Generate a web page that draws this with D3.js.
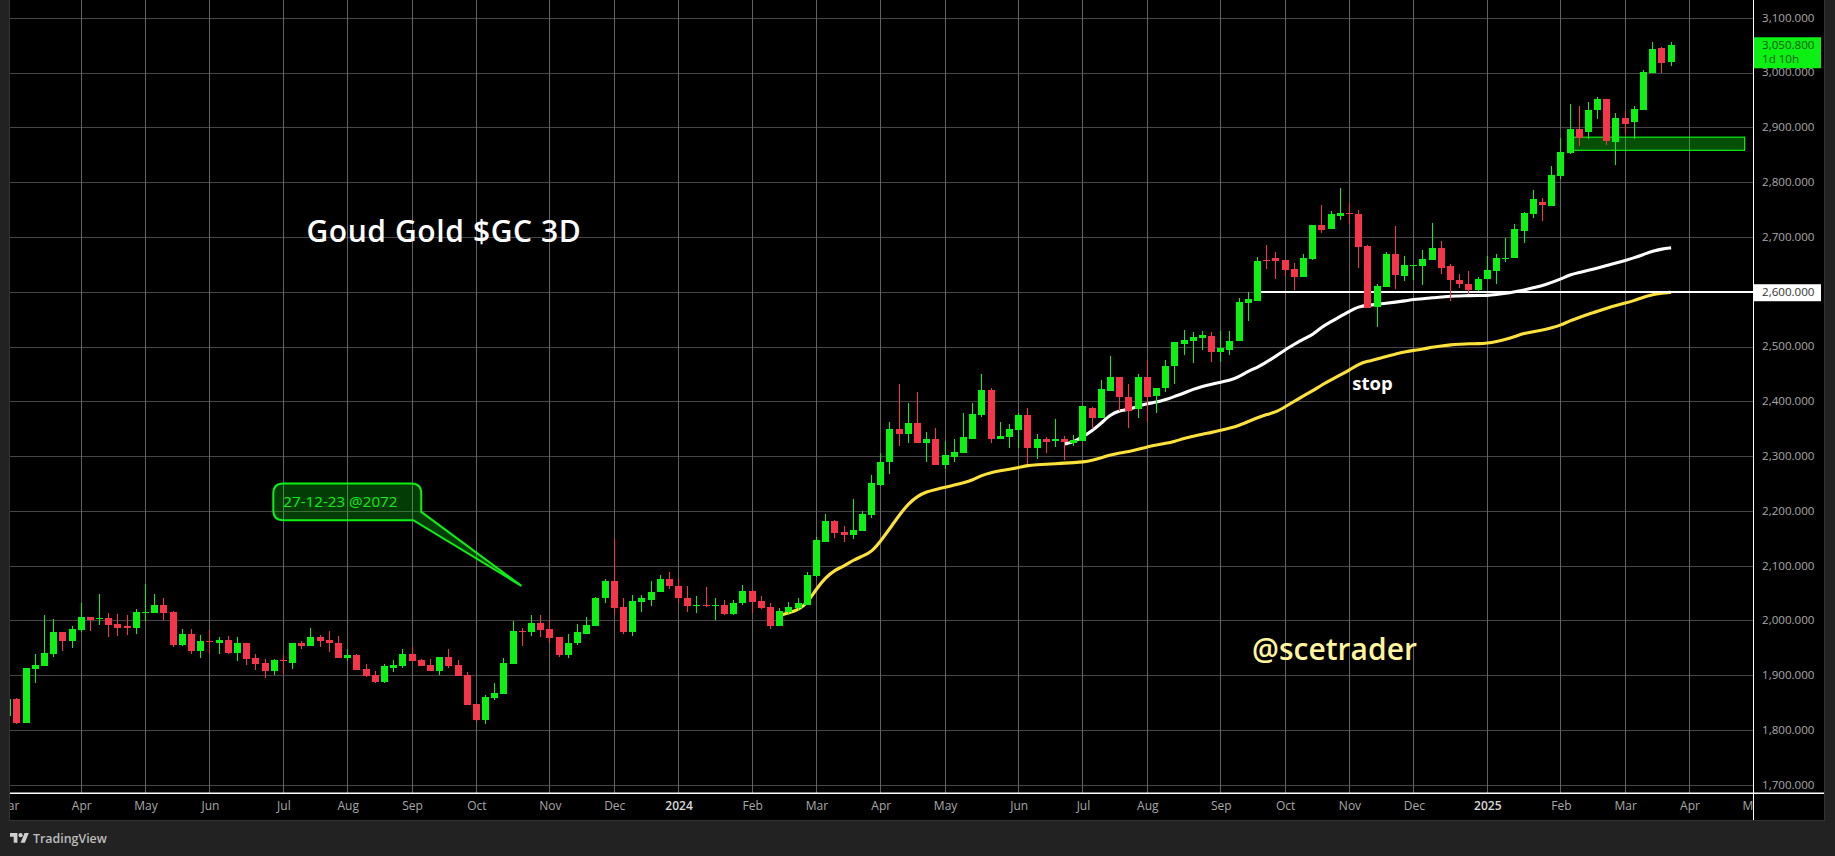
<!DOCTYPE html>
<html>
<head>
<meta charset="utf-8">
<script src="https://cdn.jsdelivr.net/npm/d3@7/dist/d3.min.js"></script>
<style>
  html, body { margin: 0; padding: 0; background: #222222; overflow: hidden; }
  svg { display: block; }
  text { font-family: "Open Sans", sans-serif; }
</style>
</head>
<body>
<div id="chart"></div>
<script>
// Bars run from index -1 up to 180 (3 day candles)
const firstBar = -1;
const opens = [1826,1857,1813,1913,1918,1940,1980,1964,1984,2008,2004,2006,1995,1990,1988,2015,2015,2030,2017,1957,1977,1946,1964,1960,1966,1942,1959,1933,1924,1908,1928,1924,1959,1955,1971,1966,1960,1933,1937,1913,1902,1889,1915,1918,1940,1928,1920,1908,1935,1920,1902,1849,1820,1860,1867,1922,1982,1979,1997,1986,1970,1937,1959,1977,1991,2041,2073,2026,1980,2035,2039,2052,2077,2064,2042,2028,2030,2028,2030,2013,2032,2055,2037,2026,1991,2017,2024,2030,2082,2145,2182,2162,2156,2164,2193,2249,2290,2351,2342,2361,2324,2332,2284,2300,2306,2333,2375,2421,2332,2335,2348,2375,2315,2332,2328,2333,2324,2328,2388,2370,2419,2445,2408,2386,2446,2410,2426,2466,2506,2511,2517,2520,2491,2495,2511,2580,2584,2659,2662,2659,2642,2628,2661,2723,2715,2739,2745,2743,2684,2573,2610,2670,2630,2648,2648,2659,2681,2648,2622,2615,2604,2624,2639,2661,2662,2712,2743,2765,2758,2813,2855,2898,2893,2933,2953,2875,2918,2911,2933,3000,3046,3020];
const highs = [1857,1860,1915,1939,2011,2004,1980,1991,2033,2008,2050,2015,2013,2010,2021,2068,2050,2042,2019,1986,1986,1975,1984,1971,1973,1970,1960,1939,1931,1931,1937,1960,1964,1988,1975,1982,1973,1948,1939,1922,1908,1922,1928,1949,1953,1931,1931,1935,1948,1929,1906,1849,1864,1886,1933,1999,1988,2010,2010,2002,1971,1977,1995,2008,2044,2077,2150,2041,2048,2048,2072,2084,2090,2079,2064,2046,2062,2041,2039,2039,2066,2057,2046,2032,2024,2035,2042,2090,2154,2195,2184,2173,2222,2200,2266,2306,2364,2432,2397,2417,2344,2352,2328,2332,2379,2397,2450,2426,2364,2359,2379,2388,2341,2335,2368,2337,2339,2392,2390,2439,2483,2445,2432,2450,2477,2426,2476,2510,2531,2528,2530,2528,2530,2530,2590,2600,2664,2686,2673,2659,2653,2670,2723,2759,2748,2790,2763,2750,2686,2615,2673,2721,2666,2650,2677,2726,2693,2651,2633,2639,2628,2666,2670,2699,2724,2747,2787,2772,2831,2882,2944,2940,2948,2957,2953,2927,2931,2940,3006,3057,3048,3057];
const lows = [1826,1811,1813,1887,1918,1935,1946,1951,1979,1982,1993,1970,1973,1975,1977,2000,2015,2002,1953,1955,1939,1933,1939,1940,1940,1926,1920,1911,1895,1902,1904,1913,1948,1955,1953,1944,1933,1926,1911,1897,1886,1886,1906,1915,1926,1917,1908,1902,1915,1900,1847,1816,1811,1855,1867,1922,1955,1973,1971,1959,1935,1933,1957,1977,1991,2032,2011,1977,1973,2017,2028,2052,2059,2032,2017,2015,2026,2002,2011,2010,2030,2015,2021,1986,1991,2010,2019,2030,2081,2144,2151,2145,2149,2164,2187,2246,2268,2319,2324,2324,2291,2284,2277,2291,2306,2333,2373,2324,2332,2315,2315,2286,2295,2306,2317,2293,2319,2328,2350,2370,2419,2383,2353,2370,2364,2379,2417,2433,2486,2471,2495,2473,2473,2486,2511,2548,2584,2642,2624,2630,2604,2628,2659,2708,2715,2732,2725,2644,2571,2537,2610,2606,2620,2622,2613,2659,2633,2584,2608,2597,2602,2624,2615,2655,2662,2690,2736,2730,2758,2807,2853,2866,2880,2917,2869,2833,2889,2880,2933,3000,3000,3013];
const closes = [1857,1813,1915,1920,1942,1980,1964,1986,2008,2002,2006,1993,1988,1988,2017,2017,2030,2015,1957,1977,1946,1964,1962,1966,1942,1959,1931,1922,1908,1928,1926,1959,1955,1971,1964,1959,1933,1937,1911,1900,1889,1917,1920,1940,1926,1918,1908,1935,1918,1900,1847,1820,1862,1869,1924,1982,1980,1997,1984,1968,1937,1960,1979,1993,2042,2073,2024,1980,2037,2041,2053,2077,2063,2041,2028,2030,2028,2030,2013,2033,2055,2035,2024,1991,2019,2026,2032,2084,2148,2182,2160,2156,2166,2195,2251,2291,2351,2342,2361,2324,2332,2284,2302,2308,2335,2377,2421,2332,2337,2350,2375,2315,2332,2326,2333,2326,2330,2392,2370,2423,2445,2408,2384,2446,2408,2426,2466,2510,2513,2519,2522,2491,2499,2511,2582,2588,2657,2657,2657,2641,2628,2662,2723,2714,2743,2745,2743,2683,2571,2611,2670,2631,2650,2650,2661,2681,2644,2622,2615,2604,2624,2641,2662,2662,2715,2745,2771,2760,2814,2856,2898,2882,2933,2953,2876,2918,2907,2935,3002,3044,3019,3050.8];

// Moving averages, read per bar
const yellowStart = 83;
const yellowLine = [2010,2015,2020,2032,2059,2079,2093,2100,2111,2118,2126,2146,2169,2193,2214,2228,2236,2240,2244,2248,2252,2257,2266,2271,2274,2277,2280,2284,2285,2286,2287,2288,2289,2290,2293,2298,2303,2307,2309,2313,2318,2321,2324,2328,2333,2337,2341,2344,2348,2352,2357,2364,2371,2377,2381,2391,2401,2411,2420,2431,2440,2449,2458,2469,2474,2478,2483,2487,2491,2494,2496,2500,2502,2504,2505,2506,2506,2507,2510,2514,2519,2525,2528,2531,2535,2540,2548,2554,2560,2565,2571,2576,2580,2585,2591,2596,2598,2600];
const whiteStart = 114;
const whiteLine = [2323,2327,2336,2347,2361,2377,2384,2386,2392,2397,2399,2404,2410,2416,2423,2428,2432,2436,2439,2446,2456,2463,2473,2483,2495,2505,2515,2522,2537,2546,2556,2565,2574,2576,2578,2580,2582,2584,2587,2588,2590,2591,2593,2593,2594,2594,2594,2596,2598,2601,2604,2608,2612,2618,2624,2632,2636,2640,2644,2649,2653,2658,2663,2669,2675,2679,2681];

// Axis ticks
const priceTicks = [1700,1800,1900,2000,2100,2200,2300,2400,2500,2600,2700,2800,2900,3000,3100];
const monthBars = [-1,7,14,21,29,36,43,50,58,65,72,80,87,94,101,109,116,123,131,138,145,152,160,168,175,182,189];
const monthLabels = ['Mar','Apr','May','Jun','Jul','Aug','Sep','Oct','Nov','Dec','2024','Feb','Mar','Apr','May','Jun','Jul','Aug','Sep','Oct','Nov','Dec','2025','Feb','Mar','Apr','May'];

// Drawings, in bar / price units
const stopLevel = { price: 2600, fromBar: 135 };
const zone = { fromBar: 168.9, toBar: 188, top: 2883, bottom: 2859 };
const callout = { left: 27.9, right: 44, top: 2251, bottom: 2184, tipBar: 54.9, tipPrice: 2064, baseBar: 43.1, basePrice: 2199 };
const notes = [
  { text: 'Goud Gold $GC 3D', bar: 31.5, price: 2691, size: 30, weight: 600, spacing: 0.6, fill: '#ffffff' },
  { text: 'stop', bar: 145.3, price: 2421, size: 18.5, weight: 700, spacing: 0, fill: '#ffffff' },
  { text: '@scetrader', bar: 134.4, price: 1929, size: 30, weight: 600, spacing: 0, fill: '#fff59d' }
];

const green = '#0cf014';
const red = '#f5364a';
const width = 1835, height = 856;
const plot = { left: 10, right: 1753, top: 0, bottom: 793, panelBottom: 820, panelRight: 1824 };

const xScale = d3.scaleLinear().domain([0, 182]).range([16.9, 1689.5]);
const yScale = d3.scaleLinear().domain([1700, 3100]).range([785.3, 18.3]);

const svg = d3.select('#chart').append('svg')
    .attr('width', width)
    .attr('height', height);

const defs = svg.append('defs');
defs.append('clipPath').attr('id', 'plot-clip').append('rect')
    .attr('x', plot.left).attr('y', plot.top)
    .attr('width', plot.right - plot.left).attr('height', plot.bottom - plot.top);
defs.append('clipPath').attr('id', 'time-clip').append('rect')
    .attr('x', plot.left).attr('y', plot.bottom)
    .attr('width', plot.right - plot.left).attr('height', plot.panelBottom - plot.bottom);

// Panel
svg.append('rect')
    .attr('x', plot.left - 1).attr('y', 0)
    .attr('width', plot.panelRight - plot.left + 2).attr('height', plot.panelBottom + 1)
    .attr('fill', '#333333');
svg.append('rect')
    .attr('x', plot.left).attr('y', 0)
    .attr('width', plot.panelRight - plot.left).attr('height', plot.panelBottom)
    .attr('fill', '#000000');

const chart = svg.append('g').attr('clip-path', 'url(#plot-clip)');
const crisp = v => Math.floor(v) + 0.5;

// Grid
chart.append('g').selectAll('line')
    .data(priceTicks)
    .join('line')
    .attr('x1', plot.left).attr('x2', plot.right)
    .attr('y1', d => crisp(yScale(d))).attr('y2', d => crisp(yScale(d)))
    .attr('stroke', '#464646');
chart.append('g').selectAll('line')
    .data(monthBars)
    .join('line')
    .attr('x1', d => crisp(xScale(d))).attr('x2', d => crisp(xScale(d)))
    .attr('y1', plot.top).attr('y2', plot.bottom)
    .attr('stroke', '#626262');

// Support zone
chart.append('rect')
    .attr('x', xScale(zone.fromBar)).attr('y', yScale(zone.top))
    .attr('width', xScale(zone.toBar) - xScale(zone.fromBar))
    .attr('height', yScale(zone.bottom) - yScale(zone.top))
    .attr('fill', 'rgba(14,240,20,0.33)')
    .attr('stroke', green)
    .attr('stroke-width', 1.2);

// Averages and stop level sit behind the candles
const lineGen = start => d3.line()
    .x((d, i) => xScale(start + i))
    .y(d => yScale(d))
    .curve(d3.curveBasis);
chart.append('path')
    .attr('d', lineGen(yellowStart)(yellowLine))
    .attr('fill', 'none').attr('stroke', '#fde23a').attr('stroke-width', 3.1);
chart.append('path')
    .attr('d', lineGen(whiteStart)(whiteLine))
    .attr('fill', 'none').attr('stroke', '#ffffff').attr('stroke-width', 3.1);
chart.append('line')
    .attr('x1', xScale(stopLevel.fromBar)).attr('x2', plot.right)
    .attr('y1', Math.floor(yScale(stopLevel.price))).attr('y2', Math.floor(yScale(stopLevel.price)))
    .attr('stroke', '#ffffff').attr('stroke-width', 2);

// Candles
const candles = opens.map((o, i) => ({ bar: firstBar + i, o, h: highs[i], l: lows[i], c: closes[i] }));
const candleG = chart.append('g').attr('shape-rendering', 'crispEdges');
candleG.selectAll('.wick')
    .data(candles)
    .join('rect')
    .attr('class', 'wick')
    .attr('x', d => Math.floor(xScale(d.bar)))
    .attr('width', 1)
    .attr('y', d => Math.round(yScale(d.h)))
    .attr('height', d => Math.max(1, Math.round(yScale(d.l)) - Math.round(yScale(d.h))))
    .attr('fill', d => d.c >= d.o ? green : red);
candleG.selectAll('.body')
    .data(candles)
    .join('rect')
    .attr('class', 'body')
    .attr('x', d => Math.floor(xScale(d.bar)) - 3)
    .attr('width', 7)
    .attr('y', d => Math.round(yScale(Math.max(d.o, d.c))))
    .attr('height', d => Math.max(1, Math.round(yScale(Math.min(d.o, d.c))) - Math.round(yScale(Math.max(d.o, d.c)))))
    .attr('fill', d => d.c >= d.o ? green : red);

// Callout
const cx0 = xScale(callout.left), cx1 = xScale(callout.right);
const cy0 = yScale(callout.top), cy1 = yScale(callout.bottom);
const r = 10;
const by = yScale(callout.basePrice);
const calloutPath = [
    `M${cx0 + r},${cy0}`, `H${cx1 - r}`, `Q${cx1},${cy0} ${cx1},${cy0 + r}`,
    `V${by}`, `L${xScale(callout.tipBar)},${yScale(callout.tipPrice)}`,
    `L${cx1 - 8},${cy1}`, `H${cx0 + r}`, `Q${cx0},${cy1} ${cx0},${cy1 - r}`,
    `V${cy0 + r}`, `Q${cx0},${cy0} ${cx0 + r},${cy0}`, 'Z'
].join(' ');
chart.append('path')
    .attr('d', calloutPath)
    .attr('fill', 'rgba(14,240,20,0.25)')
    .attr('stroke', green)
    .attr('stroke-width', 2);
chart.append('text')
    .attr('x', cx0 + 10).attr('y', (cy0 + cy1) / 2 + 5)
    .attr('fill', green)
    .attr('font-size', 15.2)
    .text('27-12-23 @2072');

// Free text on the chart
chart.append('g').selectAll('text')
    .data(notes)
    .join('text')
    .attr('x', d => xScale(d.bar))
    .attr('y', d => yScale(d.price))
    .attr('font-size', d => d.size)
    .attr('font-weight', d => d.weight)
    .attr('letter-spacing', d => d.spacing)
    .attr('fill', d => d.fill)
    .text(d => d.text);

// Time axis, clipped so Mar and May are cut at the panel edges
const xAxis = d3.axisBottom(xScale)
    .tickValues(monthBars)
    .tickFormat((d, i) => monthLabels[i])
    .tickSize(0)
    .tickPadding(8);
const xG = svg.append('g')
    .attr('clip-path', 'url(#time-clip)')
    .append('g')
    .attr('transform', `translate(0,${plot.bottom})`)
    .call(xAxis);
xG.select('.domain').remove();
xG.selectAll('text')
    .attr('font-family', '"Open Sans", sans-serif')
    .attr('font-size', 12)
    .attr('fill', (d, i) => /^\d/.test(monthLabels[i]) ? '#d8d8d8' : '#a8a8a8')
    .attr('font-weight', (d, i) => /^\d/.test(monthLabels[i]) ? 600 : 400);

// Price axis
const yAxis = d3.axisRight(yScale)
    .tickValues(priceTicks)
    .tickFormat(d => d3.format(',.3f')(d))
    .tickSize(0)
    .tickPadding(9);
const yG = svg.append('g')
    .attr('transform', `translate(${plot.right},0)`)
    .call(yAxis);
yG.select('.domain').remove();
yG.selectAll('text')
    .attr('font-family', '"Open Sans", sans-serif')
    .attr('font-size', 11.6)
    .attr('dy', '0.25em')
    .attr('fill', '#a8a8a8');

// Axis edges
svg.append('rect')
    .attr('x', plot.left).attr('y', plot.bottom - 0.5)
    .attr('width', plot.panelRight - plot.left).attr('height', 1.5)
    .attr('fill', '#ffffff');
svg.append('rect')
    .attr('x', plot.right).attr('y', 0)
    .attr('width', 1).attr('height', plot.panelBottom)
    .attr('fill', '#ffffff');

// Price labels
const labelW = 67;
const lastPrice = closes[closes.length - 1];
const lastY = yScale(lastPrice);
svg.append('rect')
    .attr('x', plot.right + 1).attr('y', lastY - 8)
    .attr('width', labelW).attr('height', 31)
    .attr('fill', green);
svg.append('text')
    .attr('x', plot.right + 9).attr('y', lastY + 4)
    .attr('font-size', 11.6).attr('fill', '#0a5c0e')
    .text(d3.format(',.3f')(lastPrice));
svg.append('text')
    .attr('x', plot.right + 9).attr('y', lastY + 18)
    .attr('font-size', 11.6).attr('fill', '#0a5c0e')
    .text('1d 10h');
svg.append('rect')
    .attr('x', plot.right + 1).attr('y', yScale(stopLevel.price) - 8)
    .attr('width', labelW).attr('height', 17)
    .attr('fill', '#ffffff');
svg.append('text')
    .attr('x', plot.right + 9).attr('y', yScale(stopLevel.price) + 4)
    .attr('font-size', 11.6).attr('fill', '#333333')
    .text(d3.format(',.3f')(stopLevel.price));

// TradingView mark
const logo = svg.append('g')
    .attr('transform', `translate(10,831) scale(0.53)`)
    .attr('fill', '#cfcfcf');
logo.append('path').attr('d', 'M14 22H7V11H0V4h14v18zM28 22h-8l7.5-18h8L28 22z');
logo.append('circle').attr('cx', 20).attr('cy', 8).attr('r', 4);
svg.append('text')
    .attr('x', 33).attr('y', 843)
    .attr('font-size', 12.4)
    .attr('font-weight', 600)
    .attr('fill', '#bdbdbd')
    .text('TradingView');
</script>
</body>
</html>
